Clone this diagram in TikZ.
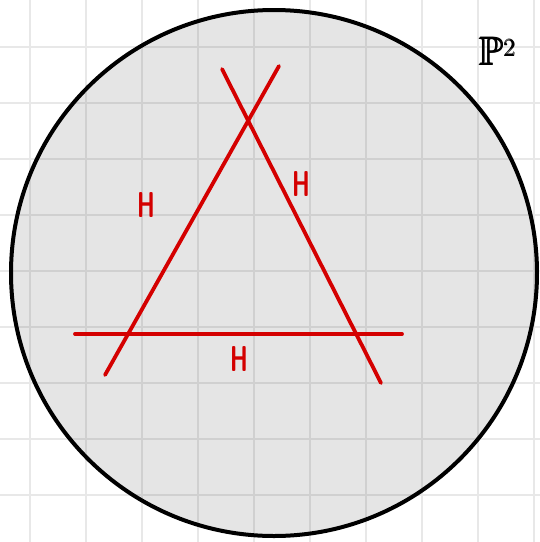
\documentclass[tikz,border=0pt]{standalone}
\usepackage{amssymb,amsmath}
\definecolor{linered}{RGB}{212,0,0}
\begin{document}
\begin{tikzpicture}[x=1pt,y=-1pt,
  gridline/.style={black!9,line width=2pt},
  hline/.style={linered,line width=3.8pt,line cap=round},
  hlabel/.style={text=linered,font=\sffamily\bfseries\fontsize{36}{36}\selectfont,inner sep=0pt,xscale=.62}]
\useasboundingbox (0,0) rectangle (540,542);
\foreach \x in {30,86,...,534}{\draw[gridline] (\x,0)--(\x,542);}
\foreach \y in {47,103,...,495}{\draw[gridline] (0,\y)--(540,\y);}
\fill[black,opacity=.1] (274,273) circle (263pt);
\draw[line width=4pt] (274,273) circle (263pt);
% three lines
\coordinate (a1) at (105,375); \coordinate (a2) at (279,66);
\coordinate (b1) at (222,69); \coordinate (b2) at (381,383);
\coordinate (c1) at (75,334); \coordinate (c2) at (402,334);
\draw[hline] (a1)--(a2); \draw[hline] (b1)--(b2); \draw[hline] (c1)--(c2);
\node[hlabel] (ha) at (146,205) {H};
\node[hlabel] (hb) at (301,184) {H};
\node[hlabel] (hc) at (239,359) {H};
\node[inner sep=0pt,font=\fontsize{40}{40}\selectfont] (proj) at (498,51) {$\pmb{\mathbb{P}}^{\pmb{2}}$};
\end{tikzpicture}
\end{document}
